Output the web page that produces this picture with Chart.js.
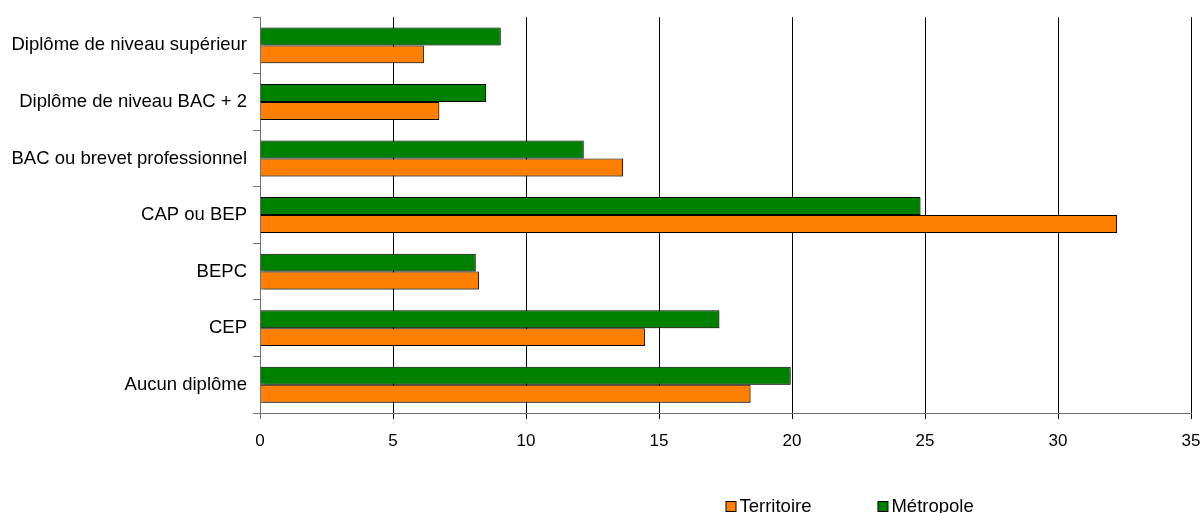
<!DOCTYPE html>
<html lang="fr">
<head>
<meta charset="UTF-8">
<title>Diplômes</title>
<style>
  body { margin: 0; background: #ffffff; }
  .wrapper { width: 1204px; height: 513px; }
</style>
</head>
<body>
<div class="wrapper">
  <canvas id="plot" width="1204" height="513"></canvas>
</div>
<script src="https://cdn.jsdelivr.net/npm/chart.js"></script>
<script>
const categories = [
  'Diplôme de niveau supérieur',
  'Diplôme de niveau BAC + 2',
  'BAC ou brevet professionnel',
  'CAP ou BEP',
  'BEPC',
  'CEP',
  'Aucun diplôme',
];
const metropole = [9.05, 8.5, 12.17, 24.83, 8.11, 17.27, 19.95];
const territoire = [6.16, 6.74, 13.65, 32.22, 8.23, 14.47, 18.44];
const xTicks = [0, 5, 10, 15, 20, 25, 30, 35];

const fontFamily = '"Liberation Sans", Arial, sans-serif';
const orange = '#ff8000';
const green = '#008000';
const axisGrey = '#707070';

// soft grey shadow under the bars, like the original office chart
const barShadow = {
  id: 'barShadow',
  beforeDatasetsDraw(chart) {
    const ctx = chart.ctx;
    ctx.save();
    ctx.shadowColor = 'rgba(0,0,0,0.3)';
    ctx.shadowOffsetX = 1;
    ctx.shadowOffsetY = 1;
    ctx.shadowBlur = 1;
  },
  afterDatasetsDraw(chart) {
    chart.ctx.restore();
  },
};

// legend drawn below the axis, starting at the middle of the plot
const bottomLegend = {
  id: 'bottomLegend',
  afterDraw(chart) {
    const ctx = chart.ctx;
    const area = chart.chartArea;
    const items = chart.data.datasets.slice().reverse();
    let x = area.left + area.width / 2;
    const y = 507;
    ctx.save();
    ctx.font = '18.5px ' + fontFamily;
    ctx.textBaseline = 'middle';
    ctx.textAlign = 'left';
    items.forEach((ds) => {
      ctx.fillStyle = ds.backgroundColor;
      ctx.fillRect(x + 0.5, y - 5.5, 10, 10);
      ctx.strokeStyle = '#000';
      ctx.lineWidth = 1;
      ctx.strokeRect(x + 0.5, y - 5.5, 10, 10);
      ctx.fillStyle = '#000';
      ctx.fillText(ds.label, x + 14, y);
      x += 14 + ctx.measureText(ds.label).width + 66;
    });
    ctx.restore();
  },
};

new Chart(document.getElementById('plot'), {
  type: 'bar',
  data: {
    labels: categories,
    datasets: [
      {
        label: 'Métropole',
        data: metropole,
        backgroundColor: green,
        borderColor: '#000',
        borderWidth: 1,
        categoryPercentage: 0.635,
        barPercentage: 1,
      },
      {
        label: 'Territoire',
        data: territoire,
        backgroundColor: orange,
        borderColor: '#000',
        borderWidth: 1,
        categoryPercentage: 0.635,
        barPercentage: 1,
      },
    ],
  },
  options: {
    indexAxis: 'y',
    responsive: false,
    animation: false,
    layout: {
      padding: { top: 17, right: 13, bottom: 0, left: 0 },
    },
    plugins: {
      legend: { display: false },
      tooltip: { enabled: false },
    },
    scales: {
      x: {
        type: 'linear',
        position: 'bottom',
        min: 0,
        max: 35,
        afterBuildTicks: (scale) => {
          scale.ticks = xTicks.map((v) => ({ value: v }));
        },
        afterFit: (scale) => {
          scale.height = 100;
          scale.paddingLeft = 0;
          scale.paddingRight = 0;
        },
        grid: {
          color: (c) => (c.tick && c.tick.value === 0 ? axisGrey : '#000'),
          lineWidth: 1,
          tickLength: 6,
        },
        border: { color: axisGrey, width: 1 },
        ticks: {
          color: '#000',
          padding: 12,
          font: { family: fontFamily, size: 17 },
        },
      },
      y: {
        afterFit: (scale) => {
          scale.width = 260;
        },
        grid: {
          drawOnChartArea: false,
          color: axisGrey,
          tickLength: 7,
        },
        border: { color: axisGrey, width: 1 },
        ticks: {
          color: '#000',
          padding: 6,
          font: { family: fontFamily, size: 18.5 },
        },
      },
    },
  },
  plugins: [barShadow, bottomLegend],
});
</script>
</body>
</html>
